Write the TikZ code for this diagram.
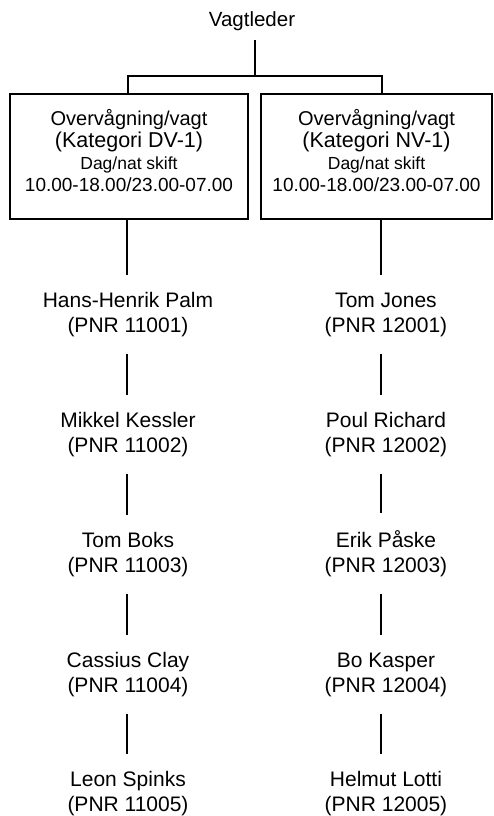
\documentclass[tikz,border=0pt]{standalone}
\usepackage{fontspec}
\setmainfont{Liberation Sans}
\begin{document}
\begin{tikzpicture}[x=1pt,y=-1pt,
  conn/.style={line width=2pt},
  unitbox/.style={draw,line width=2pt,align=center,inner sep=0pt,
    font=\fontsize{20}{22}\selectfont},
  person/.style={align=center,anchor=base,inner xsep=0pt,inner ysep=17pt,
    font=\fontsize{21}{25}\selectfont},
  head/.style={anchor=base,inner xsep=0pt,inner ysep=0pt,
    font=\fontsize{20.5}{25}\selectfont}]
\useasboundingbox (0,0) rectangle (494,816);
\fill[white] (0,0) rectangle (494,816);

\node[head] (vl) at (252,27) {Vagtleder};
\coordinate (top) at (255,40);
\coordinate (jm) at (255,76);
\coordinate (jl) at (128,76);
\coordinate (jr) at (382,76);
\coordinate (lineL) at (127,0);
\coordinate (lineR) at (381,0);

\node[unitbox,minimum width=238pt,minimum height=125pt] (dv) at (129,156.5)
  {Overvågning/vagt\\{\fontsize{21.5}{22}\selectfont (Kategori DV-1)}\\{\fontsize{17.5}{22}\selectfont Dag/nat skift}\\{\fontsize{19}{22}\selectfont 10.00-18.00/23.00-07.00}\rule[-13pt]{0pt}{13pt}};
\node[unitbox,minimum width=231pt,minimum height=125pt] (nv) at (376.5,156.5)
  {Overvågning/vagt\\{\fontsize{21.5}{22}\selectfont (Kategori NV-1)}\\{\fontsize{17.5}{22}\selectfont Dag/nat skift}\\{\fontsize{19}{22}\selectfont 10.00-18.00/23.00-07.00}\rule[-13pt]{0pt}{13pt}};

\draw[conn] (top) -- (jm);
\draw[conn] (jl |- dv.north) -- (jl) -- (jr) -- (jr |- nv.north);

\node[person] (l1) at (128,332) {Hans-Henrik Palm\\(PNR 11001)};
\node[person] (l2) at (128,452) {Mikkel Kessler\\(PNR 11002)};
\node[person] (l3) at (128,572) {Tom Boks\\(PNR 11003)};
\node[person] (l4) at (128,692) {Cassius Clay\\(PNR 11004)};
\node[person] (l5) at (128,811) {Leon Spinks\\(PNR 11005)};

\node[person] (r1) at (386,332) {Tom Jones\\(PNR 12001)};
\node[person] (r2) at (386,452) {Poul Richard\\(PNR 12002)};
\node[person] (r3) at (386,572) {Erik Påske\\(PNR 12003)};
\node[person] (r4) at (386,692) {Bo Kasper\\(PNR 12004)};
\node[person] (r5) at (386,811) {Helmut Lotti\\(PNR 12005)};

\draw[conn] (dv.south -| lineL) -- (l1.north -| lineL);
\draw[conn] (l1.south -| lineL) -- (l2.north -| lineL);
\draw[conn] (l2.south -| lineL) -- (l3.north -| lineL);
\draw[conn] (l3.south -| lineL) -- (l4.north -| lineL);
\draw[conn] (l4.south -| lineL) -- (l5.north -| lineL);

\draw[conn] (nv.south -| lineR) -- (r1.north -| lineR);
\draw[conn] (r1.south -| lineR) -- (r2.north -| lineR);
\draw[conn] (r2.south -| lineR) -- (r3.north -| lineR);
\draw[conn] (r3.south -| lineR) -- (r4.north -| lineR);
\draw[conn] (r4.south -| lineR) -- (r5.north -| lineR);
\end{tikzpicture}
\end{document}
